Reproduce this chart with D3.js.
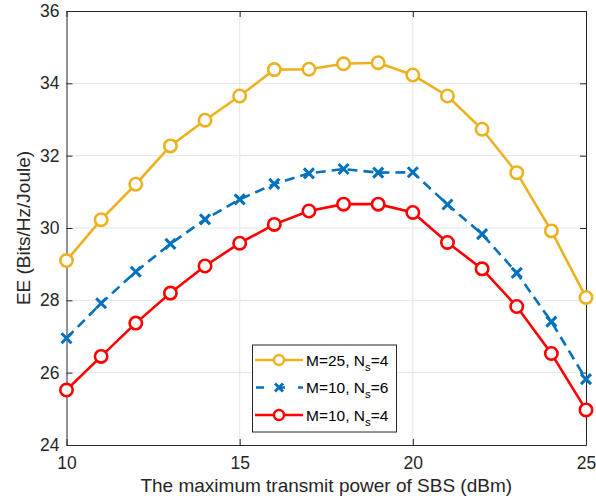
<!DOCTYPE html>
<html>
<head>
<meta charset="utf-8">
<script src="https://cdn.jsdelivr.net/npm/d3@7"></script>
<style>
  body { margin: 0; background: #fff; }
  text { font-family: "Liberation Sans", Arial, sans-serif; }
</style>
</head>
<body>
<svg width="596" height="502"></svg>
<script>
    let power = [10, 11, 12, 13, 14, 15, 16, 17, 18, 19, 20, 21, 22, 23, 24, 25];
    let ee_m25_ns4 = [29.1, 30.23, 31.21, 32.27, 32.98, 33.65, 34.38, 34.39, 34.54, 34.57, 34.23, 33.65, 32.73, 31.53, 29.92, 28.08];
    let ee_m10_ns6 = [26.95, 27.92, 28.79, 29.56, 30.24, 30.79, 31.22, 31.51, 31.63, 31.53, 31.54, 30.65, 29.83, 28.76, 27.41, 25.82];
    let ee_m10_ns4 = [25.52, 26.45, 27.37, 28.2, 28.95, 29.58, 30.1, 30.47, 30.66, 30.66, 30.43, 29.6, 28.87, 27.83, 26.53, 24.97];
    let xTicks = [10, 15, 20, 25];
    let yTicks = [24, 26, 28, 30, 32, 34, 36];

    let series = [
        { name: "M=25, N", sub: "s", tail: "=4", values: ee_m25_ns4, color: "#EDB120", marker: "circle", dash: null },
        { name: "M=10, N", sub: "s", tail: "=6", values: ee_m10_ns6, color: "#0072BD", marker: "x", dash: "10,6" },
        { name: "M=10, N", sub: "s", tail: "=4", values: ee_m10_ns4, color: "#FF0000", marker: "circle", dash: null }
    ];

    let margin = { top: 11, right: 10, bottom: 57, left: 66.5 };
    let width = 596;
    let height = 502;

    let svg = d3.select("svg");

    let x = d3.scaleLinear()
        .domain([10, 25])
        .range([margin.left, width - margin.right]);

    let y = d3.scaleLinear()
        .domain([24, 36])
        .range([height - margin.bottom, margin.top]);

    // grid
    svg.append("g")
        .selectAll("line")
        .data(xTicks.slice(1, -1))
        .join("line")
        .attr("x1", d => x(d)).attr("x2", d => x(d))
        .attr("y1", y(24)).attr("y2", y(36))
        .style("stroke", "#e6e6e6").style("stroke-width", 1);

    svg.append("g")
        .selectAll("line")
        .data(yTicks.slice(1, -1))
        .join("line")
        .attr("x1", x(10)).attr("x2", x(25))
        .attr("y1", d => y(d)).attr("y2", d => y(d))
        .style("stroke", "#e6e6e6").style("stroke-width", 1);

    // axes (ticks inward, box)
    let xAxis = svg.append("g")
        .attr("transform", `translate(0, ${y(24)})`)
        .call(d3.axisBottom(x).tickValues(xTicks).tickSize(-6).tickPadding(12).tickSizeOuter(0));
    let xAxisTop = svg.append("g")
        .attr("transform", `translate(0, ${y(36)})`)
        .call(d3.axisTop(x).tickValues(xTicks).tickSize(-6).tickFormat("").tickSizeOuter(0));
    let yAxis = svg.append("g")
        .attr("transform", `translate(${x(10)}, 0)`)
        .call(d3.axisLeft(y).tickValues(yTicks).tickSize(-6).tickPadding(7).tickSizeOuter(0));
    let yAxisRight = svg.append("g")
        .attr("transform", `translate(${x(25)}, 0)`)
        .call(d3.axisRight(y).tickValues(yTicks).tickSize(-6).tickFormat("").tickSizeOuter(0));

    svg.selectAll(".domain, .tick line").style("stroke", "#262626").style("stroke-width", 1);
    svg.selectAll(".tick text")
        .style("font-size", "17.5px")
        .style("fill", "#262626")
        .style("font-family", "'Liberation Sans', Arial, sans-serif");

    // lines
    let line = d3.line()
        .x((d, i) => x(power[i]))
        .y(d => y(d));

    series.forEach(s => {
        svg.append("path")
            .attr("d", line(s.values))
            .style("fill", "none")
            .style("stroke", s.color)
            .style("stroke-width", 2.6)
            .style("stroke-dasharray", s.dash);

        let g = svg.append("g");
        if (s.marker == "circle") {
            g.selectAll("circle")
                .data(s.values)
                .join("circle")
                .attr("cx", (d, i) => x(power[i]))
                .attr("cy", d => y(d))
                .attr("r", 6.2)
                .style("fill", "#fff")
                .style("stroke", s.color)
                .style("stroke-width", 2.6);
        } else {
            g.selectAll("path")
                .data(s.values)
                .join("path")
                .attr("transform", (d, i) => `translate(${x(power[i])}, ${y(d)})`)
                .attr("d", "M-5,-5L5,5M-5,5L5,-5")
                .style("stroke", s.color)
                .style("stroke-width", 3);
        }
    });

    // axis labels
    svg.append("text")
        .attr("x", x(17.5))
        .attr("y", 492)
        .attr("text-anchor", "middle")
        .style("font-size", "19px")
        .style("fill", "#262626")
        .text("The maximum transmit power of SBS (dBm)");

    svg.append("text")
        .attr("transform", `translate(30, ${y(30)}) rotate(-90)`)
        .attr("text-anchor", "middle")
        .style("font-size", "19px")
        .style("fill", "#262626")
        .text("EE (Bits/Hz/Joule)");

    // legend
    let legend = svg.append("g");
    legend.append("rect")
        .attr("x", 252.5).attr("y", 345)
        .attr("width", 144).attr("height", 87)
        .style("fill", "#fff")
        .style("stroke", "#262626")
        .style("stroke-width", 1);

    series.forEach((s, i) => {
        let ly = 360 + i * 27.5;
        legend.append("line")
            .attr("x1", 255).attr("x2", 303)
            .attr("y1", ly).attr("y2", ly)
            .style("stroke", s.color)
            .style("stroke-width", 2.6)
            .style("stroke-dasharray", s.dash ? "8,13" : null)
            .style("stroke-dashoffset", s.dash ? "-1" : null);
        if (s.marker == "circle") {
            legend.append("circle")
                .attr("cx", 279).attr("cy", ly).attr("r", 5)
                .style("fill", "#fff")
                .style("stroke", s.color)
                .style("stroke-width", 2.4);
        } else {
            legend.append("path")
                .attr("transform", `translate(279, ${ly})`)
                .attr("d", "M-4,-4L4,4M-4,4L4,-4")
                .style("stroke", s.color)
                .style("stroke-width", 3);
        }
        let t = legend.append("text")
            .attr("x", 306)
            .attr("y", ly + 5.5)
            .style("font-size", "15.5px")
            .style("fill", "#000");
        t.append("tspan").text(s.name);
        t.append("tspan").attr("dy", 5).style("font-size", "11.5px").text(s.sub);
        t.append("tspan").attr("dy", -5).text(s.tail);
    });
</script>
</body>
</html>
